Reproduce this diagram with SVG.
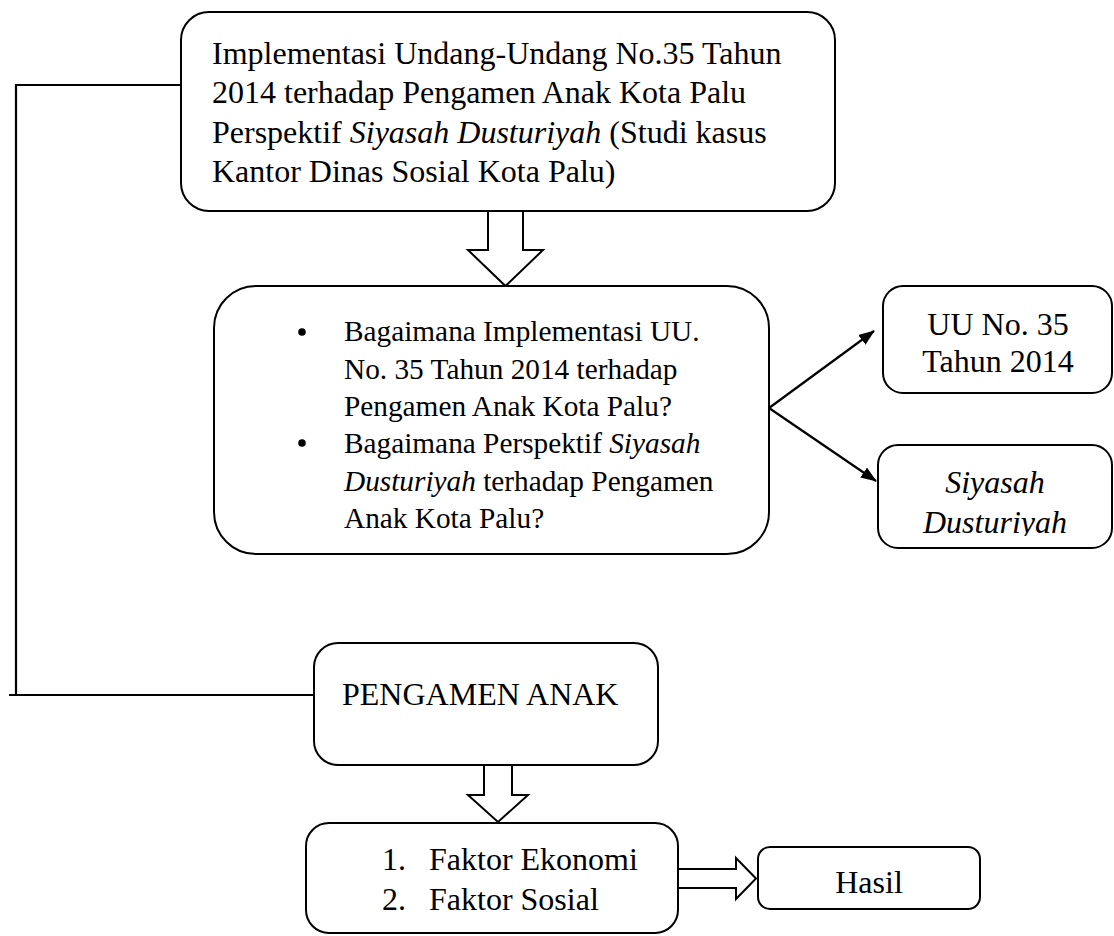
<svg xmlns="http://www.w3.org/2000/svg" width="1114" height="936" viewBox="0 0 1114 936">
<style>
.box{fill:#fff;stroke:#000;stroke-width:2}
.blk{fill:#fff;stroke:#000;stroke-width:2;stroke-linejoin:miter}
.ln{fill:none;stroke:#000;stroke-width:2.2}
text{font-family:"Liberation Serif","Times New Roman",serif;fill:#000;font-size:32px}
.sm{font-size:29.3px}
.it{font-style:italic}
</style>
<defs>
<marker id="ah" viewBox="0 0 16 12" refX="15" refY="6" markerWidth="16" markerHeight="12" markerUnits="userSpaceOnUse" orient="auto">
<path d="M0,0 L16,6 L0,12 Z" fill="#000"/>
</marker>
<clipPath id="clipSiy"><rect x="878" y="445" width="236" height="91"/></clipPath>
</defs>
<g id="connectors">
<path class="ln" d="M181,85 H16 V695"/>
<path class="ln" d="M9,695 H314"/>
<polygon class="blk" points="488,211 523,211 523,250 543,250 505.5,286 468,250 488,250"/>
<polygon class="blk" points="484,765 512,765 512,795 528,795 498,822 468,795 484,795"/>
<polygon class="blk" points="678,869 736,869 736,858 756,878.5 736,899 736,888 678,888"/>
<line class="ln" x1="769" y1="408" x2="874" y2="331" marker-end="url(#ah)"/>
<line class="ln" x1="769" y1="408" x2="876" y2="481" marker-end="url(#ah)"/>
</g>
<g id="node-top">
<rect class="box" x="181" y="12" width="654" height="199" rx="28" ry="28"/>
<text x="212" y="64">Implementasi Undang-Undang No.35 Tahun</text>
<text x="212" y="103">2014 terhadap Pengamen Anak Kota Palu</text>
<text x="212" y="143">Perspektif <tspan class="it">Siyasah Dusturiyah</tspan> (Studi kasus</text>
<text x="212" y="182">Kantor Dinas Sosial Kota Palu)</text>
</g>
<g id="node-questions">
<rect class="box" x="214" y="286" width="555" height="268" rx="42" ry="42"/>
<circle cx="302" cy="332" r="3.8" fill="#000"/>
<circle cx="302" cy="443" r="3.8" fill="#000"/>
<text class="sm" x="344" y="341">Bagaimana Implementasi UU.</text>
<text class="sm" x="344" y="378.5">No. 35 Tahun 2014 terhadap</text>
<text class="sm" x="344" y="416">Pengamen Anak Kota Palu?</text>
<text class="sm" x="344" y="453">Bagaimana Perspektif <tspan class="it">Siyasah</tspan></text>
<text class="sm" x="344" y="490.5"><tspan class="it">Dusturiyah</tspan> terhadap Pengamen</text>
<text class="sm" x="344" y="528">Anak Kota Palu?</text>
</g>
<g id="node-uu">
<rect class="box" x="883" y="286" width="229" height="107" rx="20" ry="20"/>
<text x="998" y="335" text-anchor="middle">UU No. 35</text>
<text x="998" y="372" text-anchor="middle">Tahun 2014</text>
</g>
<g id="node-siyasah">
<rect class="box" x="878" y="445" width="234" height="103" rx="20" ry="20"/>
<g clip-path="url(#clipSiy)">
<text class="it" x="995" y="493" text-anchor="middle">Siyasah</text>
<text class="it" x="995" y="533" text-anchor="middle">Dusturiyah</text>
</g>
</g>
<g id="node-pengamen">
<rect class="box" x="314" y="643" width="344" height="122" rx="24" ry="24"/>
<text x="342" y="705">PENGAMEN ANAK</text>
</g>
<g id="node-faktor">
<rect class="box" x="306" y="823" width="372" height="110" rx="23" ry="23"/>
<text x="382" y="870">1.</text>
<text x="429" y="870">Faktor Ekonomi</text>
<text x="382" y="910">2.</text>
<text x="429" y="910">Faktor Sosial</text>
</g>
<g id="node-hasil">
<rect class="box" x="758" y="847" width="222" height="62" rx="12" ry="12"/>
<text x="869" y="893" text-anchor="middle">Hasil</text>
</g>
</svg>
